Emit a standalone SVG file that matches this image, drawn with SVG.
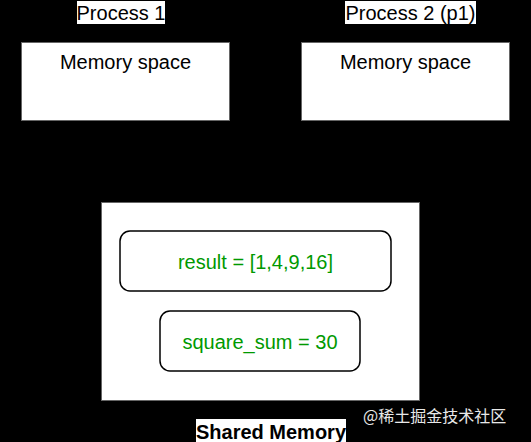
<svg xmlns="http://www.w3.org/2000/svg" width="531" height="442" viewBox="0 0 531 442">
<style>
.lbl{font-family:"Liberation Sans",Arial,sans-serif;font-size:20px;fill:#000;text-anchor:middle}
.val{font-family:"Liberation Sans",Arial,sans-serif;font-size:20px;fill:#009900;text-anchor:middle}
.box{fill:#fff;stroke:#666;stroke-width:1}
.rbox{fill:#fff;stroke:#000;stroke-width:1.5}
.bg{fill:#fff}
</style>
<rect x="0" y="0" width="531" height="442" fill="#000"/>
<g id="process1">
<rect class="bg" x="77" y="1" width="88" height="23"/>
<text class="lbl" x="121" y="20">Process 1</text>
<rect class="box" x="21.5" y="42.5" width="208" height="78"/>
<text class="lbl" x="125.5" y="69">Memory space</text>
</g>
<g id="process2">
<rect class="bg" x="345" y="1" width="131" height="23"/>
<text class="lbl" x="410.5" y="20">Process 2 (p1)</text>
<rect class="box" x="301.5" y="42.5" width="208" height="78"/>
<text class="lbl" x="405.5" y="69">Memory space</text>
</g>
<g id="shared">
<rect class="box" x="101.5" y="202.5" width="318" height="198"/>
<rect class="bg" x="196" y="419" width="150" height="23"/>
<text class="lbl" x="271" y="439" font-weight="bold">Shared Memory</text>
</g>
<g id="result">
<rect class="rbox" x="120" y="231" width="271" height="60" rx="10"/>
<text class="val" x="255.5" y="269">result = [1,4,9,16]</text>
</g>
<g id="square_sum">
<rect class="rbox" x="160" y="311" width="200" height="60" rx="10"/>
<text class="val" x="260" y="349">square_sum = 30</text>
</g>
<g id="connectors"></g>
<text x="363" y="422" font-family="'Noto Sans CJK SC','Liberation Sans',sans-serif" font-size="16" fill="#e8e8e8">@稀土掘金技术社区</text>
</svg>
